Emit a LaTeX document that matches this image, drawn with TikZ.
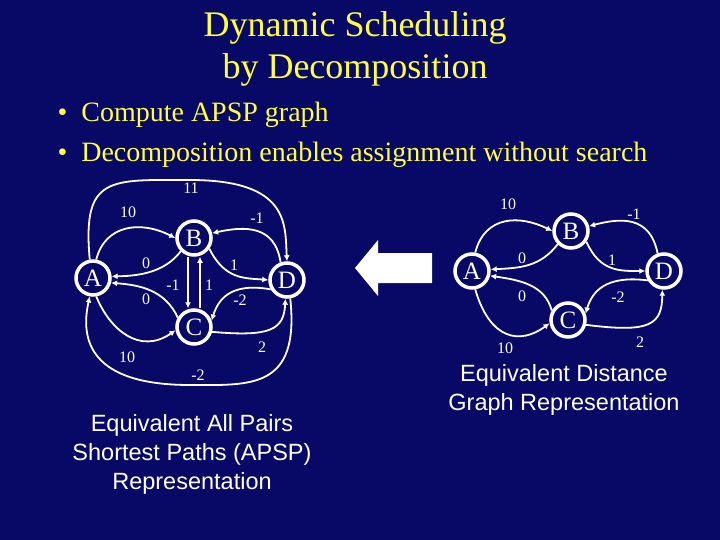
\documentclass[tikz,border=0pt]{standalone}
\usepackage{fontspec}
\setmainfont{Liberation Serif}
\newfontfamily\capfont{Liberation Sans}
\usetikzlibrary{arrows.meta}
\definecolor{bg}{RGB}{8,8,102}
\definecolor{ttl}{RGB}{255,255,60}
\begin{document}
\begin{tikzpicture}[x=1pt,y=-1pt,
  vtx/.style={circle,draw=white,line width=3.5pt,text=white,minimum size=34pt,inner sep=0pt,font=\fontsize{25}{25}\selectfont},
  edge/.style={draw=white,line width=1.8pt,-{Latex[length=6pt,width=6pt]}},
  lbl/.style={text=white,font=\fontsize{16}{16}\selectfont},
  bul/.style={text=ttl,anchor=west,font=\fontsize{28}{28}\selectfont},
  captxt/.style={text=white,align=center,font=\capfont\fontsize{23.5}{29}\selectfont}]
\fill[bg] (0,0) rectangle (720,540);
\useasboundingbox (0,0) rectangle (720,540);
\node[text=ttl,align=center,font=\fontsize{36}{42}\selectfont] (title) at (355,49) {Dynamic Scheduling\\ by Decomposition};
\node[bul] (b1) at (54,115) {•\hspace{14pt}Compute APSP graph};
\node[bul] (b2) at (54,155) {•\hspace{14pt}Decomposition enables assignment without search};
% left graph
\node[vtx] (A) at (93,278) {A};
\node[vtx] (B) at (194,238) {B};
\node[vtx] (C) at (194,327) {C};
\node[vtx] (D) at (287,280) {D};
\draw[edge] (A.80) .. controls (105,225) and (140,220) .. (B.180);
\draw[edge] (B.225) .. controls (165,272) and (140,276) .. (A.5);
\draw[edge] (C.150) .. controls (165,290) and (140,285) .. (A.-15);
\draw[edge] (A.-80) .. controls (110,330) and (140,355) .. (C.190);
\draw[edge] (A.100) .. controls (82,175) and (110,180) .. (190,180) .. controls (290,180) and (285,225) .. (D.90);
\draw[edge] (D.-80) .. controls (300,390) and (250,385) .. (190,385) .. controls (90,385) and (80,340) .. (A.-100);
\draw[edge] ([xshift=-6pt]B.south) -- ([xshift=-6pt]C.north);
\draw[edge] ([xshift=6pt]C.north) -- ([xshift=6pt]B.south);
\draw[edge] (D.110) .. controls (275,225) and (245,226) .. (B.15);
\draw[edge] (B.-35) .. controls (225,280) and (245,278) .. (D.180);
\draw[edge] (D.-150) .. controls (230,282) and (218,300) .. (C.20);
\draw[edge] (C.-15) .. controls (270,337) and (284,330) .. (D.-95);
\node[lbl] (l1) at (191,188) {11};
\node[lbl] (l2) at (128,212) {10};
\node[lbl] (l3) at (257,218) {-1};
\node[lbl] (l4) at (146,263) {0};
\node[lbl] (l5) at (234,265) {1};
\node[lbl] (l6) at (173,285) {-1};
\node[lbl] (l7) at (209,285) {1};
\node[lbl] (l8) at (146,299) {0};
\node[lbl] (l9) at (240,300) {-2};
\node[lbl] (l10) at (262,347) {2};
\node[lbl] (l11) at (127,357) {10};
\node[lbl] (l12) at (198,375) {-2};
\node[captxt] (c1) at (192,454) {Equivalent All Pairs\\Shortest Paths (APSP)\\Representation};
% arrow
\fill[white] (355,268) -- (378,240) -- (378,253) -- (432,253) -- (432,283) -- (378,283) -- (378,296) -- cycle;
% right graph
\node[vtx] (A2) at (472,271) {A};
\node[vtx] (B2) at (571,231) {B};
\node[vtx] (C2) at (568,320) {C};
\node[vtx] (D2) at (664,271) {D};
\draw[edge] (A2.80) .. controls (485,215) and (520,215) .. (B2.180);
\draw[edge] (B2.225) .. controls (540,267) and (520,268) .. (A2.5);
\draw[edge] (C2.150) .. controls (545,285) and (520,280) .. (A2.-15);
\draw[edge] (A2.-80) .. controls (490,340) and (520,345) .. (C2.190);
\draw[edge] (D2.110) .. controls (650,215) and (620,218) .. (B2.15);
\draw[edge] (B2.-35) .. controls (600,272) and (620,271) .. (D2.180);
\draw[edge] (D2.-150) .. controls (605,275) and (592,292) .. (C2.20);
\draw[edge] (C2.-15) .. controls (650,333) and (662,325) .. (D2.-95);
\node[lbl] (r2) at (508,204) {10};
\node[lbl] (r3) at (634,214) {-1};
\node[lbl] (r4) at (522,258) {0};
\node[lbl] (r5) at (612,260) {1};
\node[lbl] (r8) at (522,296) {0};
\node[lbl] (r9) at (618,297) {-2};
\node[lbl] (r10) at (640,342) {2};
\node[lbl] (r11) at (505,348) {10};
\node[captxt] (c2) at (564,390) {Equivalent Distance\\Graph Representation};
\end{tikzpicture}
\end{document}
